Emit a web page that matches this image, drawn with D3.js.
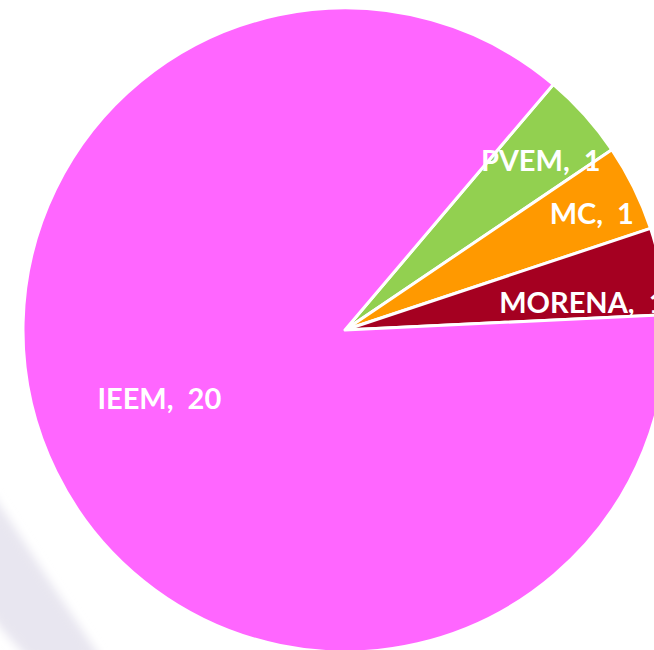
<!DOCTYPE html>
<html>
<head>
<meta charset="utf-8">
<script src="https://cdn.jsdelivr.net/npm/d3@7"></script>
<style>
html,body{margin:0;padding:0;background:#fff;overflow:hidden;}
svg{display:block;}
</style>
</head>
<body>
<svg id="chart" width="654" height="650"></svg>
<script>
// ---- data ----
const categories = ["PVEM", "MC", "MORENA", "IEEM"];
const values = [1, 1, 1, 20];
const colors = ["#92D050", "#FF9900", "#A50021", "#FF66FF"];

// ---- layout ----
const W = 654, H = 650;
const cx = 345, cy = 330, R = 322;
const startDeg = 40.3;
// label placement: radius and angular shift (degrees) from slice middle
const labelPlace = {
  PVEM:   {r: 259, da: 1.0},
  MC:     {r: 273, da: 0.9},
  MORENA: {r: 239, da: 3.9},
  IEEM:   {r: 198, da: 5.9}
};

const svg = d3.select("#chart");

// faint background shadow (bottom-left)
const defs = svg.append("defs");
const f = defs.append("filter").attr("id", "blur").attr("x", "-50%").attr("y", "-50%").attr("width", "200%").attr("height", "200%");
f.append("feGaussianBlur").attr("stdDeviation", 5);
svg.append("path")
  .attr("d", "M-10,490 Q45,575 102,660 L30,660 Q10,640 -10,615 Z")
  .attr("fill", "#e8e6f0")
  .attr("filter", "url(#blur)");

const data = categories.map((c, i) => ({name: c, value: values[i], color: colors[i]}));

const pie = d3.pie()
  .sort(null)
  .value(d => d.value)
  .startAngle(startDeg * Math.PI / 180)
  .endAngle(startDeg * Math.PI / 180 + 2 * Math.PI);

const arcs = pie(data);
const arc = d3.arc().innerRadius(0).outerRadius(R);

const g = svg.append("g").attr("transform", `translate(${cx},${cy})`);

g.selectAll("path.slice")
  .data(arcs)
  .join("path")
  .attr("class", "slice")
  .attr("d", arc)
  .attr("fill", d => d.data.color)
  .attr("stroke", "#fff")
  .attr("stroke-width", 3)
  .attr("stroke-linejoin", "round");

g.selectAll("text.lbl")
  .data(arcs)
  .join("text")
  .attr("class", "lbl")
  .attr("transform", d => {
    const p = labelPlace[d.data.name];
    const a = (d.startAngle + d.endAngle) / 2 + p.da * Math.PI / 180;
    return `translate(${p.r * Math.sin(a)},${-p.r * Math.cos(a)})`;
  })
  .attr("text-anchor", "middle")
  .attr("dy", "0.36em")
  .attr("fill", "#fff")
  .attr("font-family", "Lato, sans-serif")
  .attr("font-weight", "bold")
  .attr("font-size", 29)
  .attr("xml:space", "preserve")
  .style("white-space", "pre")
  .text(d => `${d.data.name},  ${d.data.value}`);
</script>
</body>
</html>
